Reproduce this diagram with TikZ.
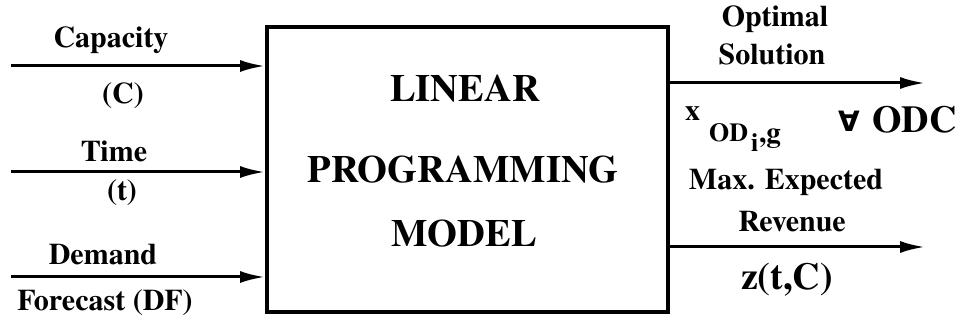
\documentclass[tikz,border=0pt]{standalone}
\usepackage{fontspec}
\setmainfont{texgyretermes}[Extension=.otf,UprightFont=*-regular,BoldFont=*-bold]
\newfontfamily\symfnt{DejaVu Sans}
\usetikzlibrary{arrows.meta}
\newcommand{\fsz}[1]{\fontsize{#1}{#1}\selectfont}
\begin{document}
\begin{tikzpicture}[x=1pt,y=-1pt,
  lbl/.style={anchor=base,inner sep=0pt,font=\bfseries\fsz{30}},
  sub/.style={anchor=base west,inner sep=0pt},
  big/.style={anchor=base,inner sep=0pt,font=\bfseries\fsz{38.5}},
  flow/.style={line width=3pt,-{Latex[length=25pt,width=12pt]}},
  model/.style={draw,line width=4pt,rectangle,minimum width=401pt,minimum height=285pt,inner sep=0pt}]
\useasboundingbox (0,0) rectangle (960,328);
% the model block
\node[model] (lp) at (467.5,169.5) {};
\node[big] (t1) at (465,102) {LINEAR};
\node[big] (t2) at (463,183) {PROGRAMMING};
\node[big] (t3) at (464,247) {MODEL};
% inputs
\coordinate (i1) at (11,66);
\coordinate (i2) at (11,172);
\coordinate (i3) at (11,277);
\draw[flow] (i1) -- (i1 -| lp.west);
\draw[flow] (i2) -- (i2 -| lp.west);
\draw[flow] (i3) -- (i3 -| lp.west);
\node[lbl] (cap) at (111,48) {Capacity};
\node[lbl] (capc) at (123,104) {(C)};
\node[lbl] (tim) at (114,162) {Time};
\node[lbl] (timt) at (122,201) {(t)};
\node[lbl] (dem) at (103,265) {Demand};
\node[lbl] (fc) at (105,310) {Forecast (DF)};
% outputs
\coordinate (o1) at (925,83);
\coordinate (o2) at (925,247);
\draw[flow] (o1 -| lp.east) -- (o1);
\draw[flow] (o2 -| lp.east) -- (o2);
\node[lbl] (opt) at (775,27) {Optimal};
\node[lbl] (sol) at (772,65) {Solution};
\node[sub,font=\bfseries\fsz{30}] (xv) at (685,121) {x};
\node[sub,font=\bfseries\fsz{26}] (xod) at (709,142) {OD};
\node[sub,font=\bfseries\fsz{26}] (xi) at (751,152) {i};
\node[sub,font=\bfseries\fsz{29}] (xg) at (759,143) {,g};
\node[sub,font=\symfnt\bfseries\fsz{28}] (fa) at (838,132) {∀};
\node[sub,font=\bfseries\fsz{38}] (odc) at (872,133) {ODC};
\node[lbl] (mer) at (786,190) {Max. Expected};
\node[lbl] (rev) at (792,232) {Revenue};
\node[lbl,font=\bfseries\fsz{38}] (z) at (787,290) {z(t,C)};
\end{tikzpicture}
\end{document}
